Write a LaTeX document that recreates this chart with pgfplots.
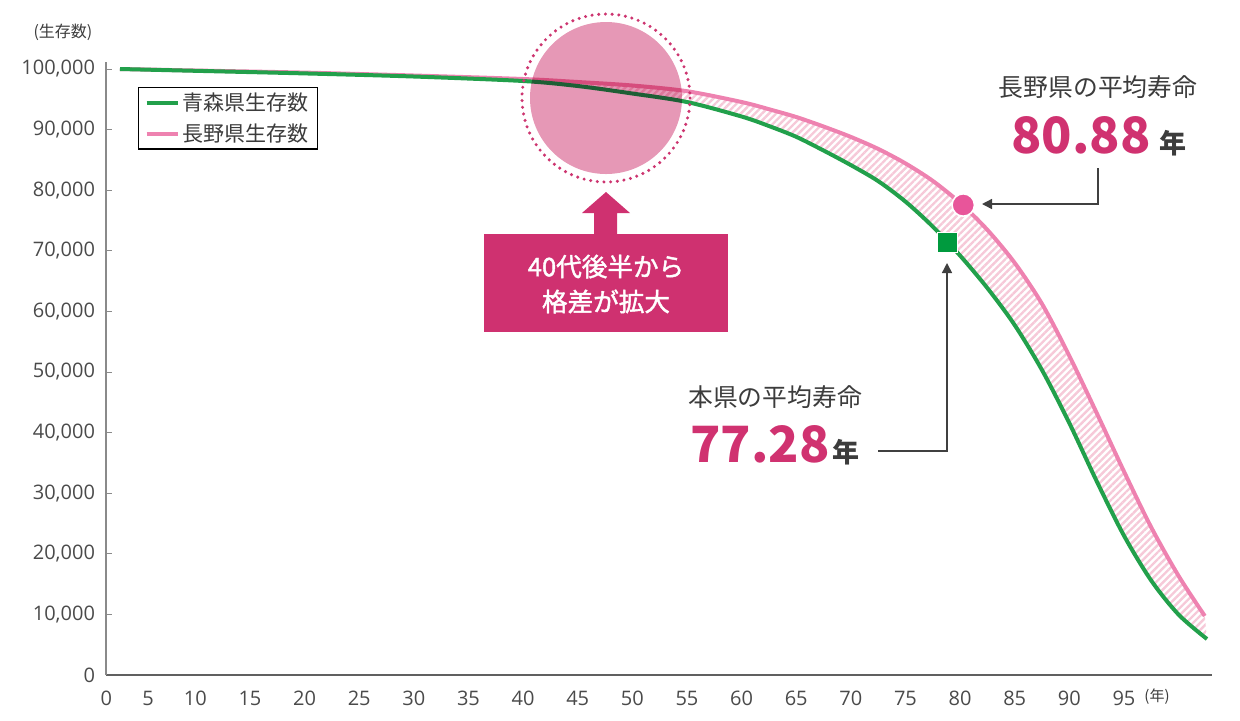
\documentclass[border=0pt]{standalone}
\usepackage{fontspec}
\usepackage{pgfplots}
\usepackage{pgfplotstable}
\pgfplotsset{compat=1.18}
\usepgfplotslibrary{fillbetween}
\usetikzlibrary{patterns.meta,arrows.meta}
\setmainfont{Noto Sans CJK JP}
\newfontfamily\tickfont{Open Sans}
\newfontfamily\medfont[FakeBold=1.6]{Noto Sans CJK JP}

\definecolor{greenline}{HTML}{22A04B}
\definecolor{pinkline}{HTML}{EE82B0}
\definecolor{greenmark}{HTML}{009A3E}
\definecolor{pinkmark}{HTML}{E8559A}
\definecolor{hatch}{HTML}{F6C9D8}
\definecolor{magentatext}{HTML}{D03270}
\definecolor{boxcol}{HTML}{CF3170}
\definecolor{circlefill}{HTML}{E698B6}
\definecolor{ringdot}{HTML}{CD3570}
\definecolor{textgray}{HTML}{3C3C3C}
\definecolor{tickgray}{HTML}{4A4A4A}
\definecolor{yaxisgray}{HTML}{8A8A8A}
\definecolor{xaxisgray}{HTML}{606060}
\definecolor{linegray}{HTML}{404040}

\pgfplotstableread{
age value
3.10 100000
10 99703
20 99274
30 98762
40 98020
45 97195
50 95957
55 94554
60 92162
62.5 90594
65 88812
67.5 86551
70 84142
72.5 81502
75 78119
77.5 73993
80 69208
82.5 63845
85 57739
87.5 50314
90 41568
92.5 31997
95 23003
97.5 15578
100 9967
102.6 5941
}\greendata

\pgfplotstableread{
age value
3.10 100000
10 99752
20 99406
30 98927
40 98350
45 97855
50 97277
55 96337
60 94554
62.5 93368
65 92079
67.5 90511
70 88795
72.5 86816
75 84422
77.5 81535
80 77905
82.5 73449
85 68003
87.5 61238
90 52657
92.5 43251
95 33597
97.5 24356
100 16353
102.4 9736
}\pinkdata

\begin{document}
\begin{tikzpicture}
\begin{axis}[
  at={(53pt,-337.5pt)}, anchor=south west,
  scale only axis, width=553pt, height=306.5pt,
  xmin=1.82, xmax=103.06, ymin=0, ymax=101155,
  axis x line=bottom, axis y line=left,
  axis line style={-},
  x axis line style={draw=xaxisgray, line width=0.6pt},
  y axis line style={draw=yaxisgray, line width=0.6pt},
  xtick={1.86,5.67,10,15,20,25,30,35,40,45,50,55,60,65,70,75,80,85,90,95},
  xticklabels={0,5,10,15,20,25,30,35,40,45,50,55,60,65,70,75,80,85,90,95},
  x tick style={draw=none},
  ytick={0,10000,20000,30000,40000,50000,60000,70000,80000,90000,100000},
  y tick style={draw=yaxisgray, line width=0.5pt},
  tick align=inside, major tick length=3pt,
  scaled y ticks=false,
  /pgf/number format/fixed,
  /pgf/number format/precision=0,
  /pgf/number format/1000 sep={,},
  /pgf/number format/assume math mode=true,
  ticklabel style={font=\tickfont\fontsize{10}{12}\selectfont, text=tickgray},
  yticklabel style={xshift=-2pt},
  xticklabel style={yshift=-4.5pt},
  set layers,
  legend style={at={(0.0289,0.959)}, anchor=north west, draw=black, line width=0.6pt,
    fill=white, font=\fontsize{10.5}{12}\selectfont, text=textgray,
    inner xsep=3pt, inner ysep=1pt, row sep=2pt,
    nodes={inner ysep=1.5pt, inner xsep=1.5pt}},
  legend image code/.code={\draw[#1, line width=2pt] (0pt,0pt) -- (15.5pt,0pt);},
  legend cell align=left, reverse legend,
]
\addplot[pinkline, line width=2pt, smooth, name path=pink] table {\pinkdata};
\addlegendentry{長野県生存数}
\addplot[greenline, line width=2pt, smooth, name path=green] table {\greendata};
\addlegendentry{青森県生存数}
\addplot[pattern={Lines[angle=45,distance=2.5pt,line width=1.2pt]}, pattern color=hatch, draw=none, forget plot] fill between[of=pink and green];
\addplot[only marks, mark=square*, mark size=5pt, mark options={fill=greenmark, draw=white, line width=0.8pt}, forget plot] coordinates {(78.83,71403)};
\addplot[only marks, mark=*, mark size=5.6pt, mark options={fill=pinkmark, draw=white, line width=0.8pt}, forget plot] coordinates {(80.29,77558)};
\end{axis}

\begin{scope}[x=0.5pt,y=-0.5pt]
\path[use as bounding box] (0,0) rectangle (1240,720);
\node[font=\fontsize{8}{9}\selectfont, text=textgray] at (63,32) {(生存数)};
\node[font=\fontsize{7.5}{9}\selectfont, text=textgray] at (1157,697) {(年)};
% highlight circle
\begin{scope}[blend mode=multiply]
\fill[circlefill] (606,98) circle[radius=76];
\end{scope}
\draw[ringdot, line width=1.7pt, dash pattern=on 0pt off 3.35pt, line cap=round] (606,98) circle[radius=84];
% arrow + box
\fill[boxcol] (606,192) -- (630,213) -- (617,213) -- (617,235) -- (594,235) -- (594,213) -- (582,213) -- cycle;
\fill[boxcol] (484,234) rectangle (728,332);
\node[text=white, font=\medfont\fontsize{12.8}{17.5}\selectfont, align=center] at (606,284) {40代後半から\\格差が拡大};
% Nagano annotation
\node[text=textgray, font=\fontsize{12.4}{15}\selectfont] at (1098,87) {長野県の平均寿命};
\node[anchor=base west, inner sep=0, text=magentatext, font=\bfseries\fontsize{25}{30}\selectfont] at (1011,153) {80.88};
\node[anchor=base west, inner sep=0, text=textgray, font=\bfseries\fontsize{13.5}{16}\selectfont] at (1159,153) {年};
\draw[linegray, line width=0.75pt, -{Triangle[length=5pt,width=5pt]}] (1098,168) -- (1098,204) -- (982,204);
% Aomori annotation
\node[text=textgray, font=\fontsize{12.4}{15}\selectfont] at (775,397) {本県の平均寿命};
\node[anchor=base west, inner sep=0, text=magentatext, font=\bfseries\fontsize{25}{30}\selectfont] at (690,462) {77.28};
\node[anchor=base west, inner sep=0, text=textgray, font=\bfseries\fontsize{13.5}{16}\selectfont] at (832,462) {年};
\draw[linegray, line width=0.75pt, -{Triangle[length=5pt,width=5pt]}] (878,451) -- (947,451) -- (947,263);
\end{scope}
\end{tikzpicture}
\end{document}
